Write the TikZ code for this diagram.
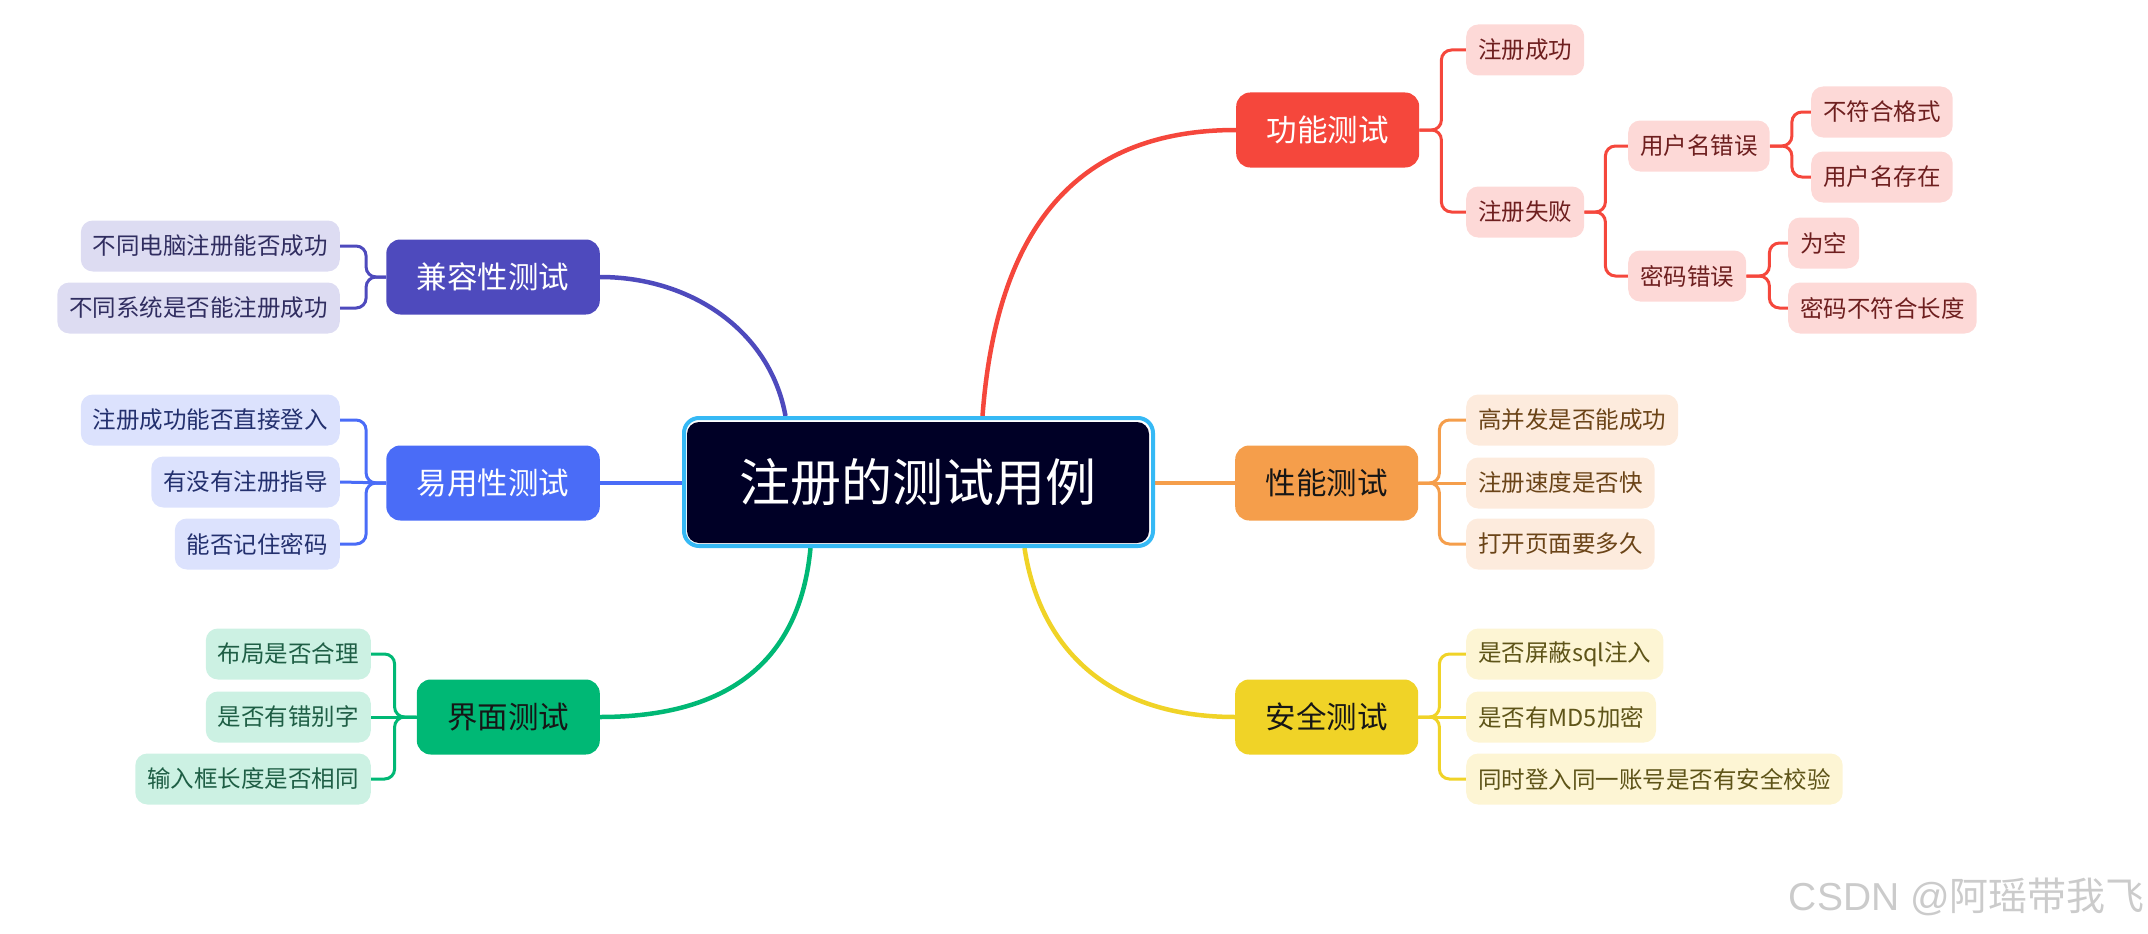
\documentclass[tikz,border=0pt]{standalone}
\usepackage{fontspec}
\setmainfont{Noto Sans CJK SC}
\newfontfamily\latinsans{Liberation Sans}
\usetikzlibrary{calc}
\pgfdeclarelayer{bg}
\pgfsetlayers{bg,main}
\definecolor{cred}{HTML}{F5473C}
\definecolor{credleaf}{HTML}{FDD9D7}
\definecolor{credtext}{HTML}{6E1F1F}
\definecolor{corange}{HTML}{F59E4B}
\definecolor{corangeleaf}{HTML}{FDEBDD}
\definecolor{corangetext}{HTML}{6B4418}
\definecolor{cyellow}{HTML}{F0D327}
\definecolor{cyellowleaf}{HTML}{FDF5D4}
\definecolor{cyellowtext}{HTML}{5E5418}
\definecolor{cpurple}{HTML}{4E4ABD}
\definecolor{cpurpleleaf}{HTML}{DDDCF2}
\definecolor{cpurpletext}{HTML}{302D60}
\definecolor{cblue}{HTML}{4A6CF7}
\definecolor{cblueleaf}{HTML}{DCE2FD}
\definecolor{cbluetext}{HTML}{23306E}
\definecolor{cgreen}{HTML}{00B875}
\definecolor{cgreenleaf}{HTML}{CCF1E3}
\definecolor{cgreentext}{HTML}{1E5E45}
\definecolor{crootfill}{HTML}{000026}
\definecolor{crootborder}{HTML}{36B9F5}
\definecolor{cdarktext}{HTML}{161616}
\definecolor{cwater}{HTML}{CBCBCB}
\tikzset{
  leafbox/.style={rounded corners=12pt, minimum height=51pt, inner xsep=12pt, inner ysep=0pt,
    font=\fontsize{23.5}{26}\selectfont},
  branchbox/.style={rounded corners=14pt, minimum height=75pt, inner xsep=30.5pt, inner ysep=0pt,
    font=\fontsize{30.5}{34}\selectfont},
  mainline/.style={line width=4.5pt},
  subline/.style={line width=3pt, rounded corners=10pt},
}
\begin{document}
\begin{tikzpicture}[x=1pt,y=-1pt]
\useasboundingbox (0,0) rectangle (2148,934);
% root
\node[draw=crootborder, line width=4pt, fill=white, rounded corners=15pt,
  minimum width=469pt, minimum height=128pt, inner sep=0pt] (rootframe) at (918.5,482) {};
\node[fill=crootfill, text=white, rounded corners=12pt, minimum width=462pt, minimum height=121pt,
  inner sep=0pt, font=\fontsize{51}{56}\selectfont] (root) at (918,482.5) {注册的测试用例};
% branches
\node[branchbox, fill=cred, text=white, anchor=west] (func) at (1236,130) {功能测试};
\node[branchbox, fill=corange, text=cdarktext, anchor=west] (perf) at (1235,483) {性能测试};
\node[branchbox, fill=cyellow, text=cdarktext, anchor=west] (sec) at (1235,717) {安全测试};
\node[branchbox, fill=cpurple, text=white, anchor=east] (comp) at (600,277) {兼容性测试};
\node[branchbox, fill=cblue, text=white, anchor=east] (usab) at (600,483) {易用性测试};
\node[branchbox, fill=cgreen, text=cdarktext, anchor=east] (ui) at (600,717) {界面测试};
% functional leaves
\tikzset{rleaf/.style={leafbox, fill=credleaf, text=credtext, anchor=west}}
\node[rleaf] (f1) at (1466,50) {注册成功};
\node[rleaf] (f2) at (1466,212) {注册失败};
\node[rleaf] (f3) at (1628,146) {用户名错误};
\node[rleaf] (f4) at (1628,276) {密码错误};
\node[rleaf] (f5) at (1811,112) {不符合格式};
\node[rleaf] (f6) at (1811,177) {用户名存在};
\node[rleaf] (f7) at (1788,243) {为空};
\node[rleaf] (f8) at (1788,308) {密码不符合长度};
% performance leaves
\tikzset{oleaf/.style={leafbox, fill=corangeleaf, text=corangetext, anchor=west}}
\node[oleaf] (p1) at (1466,420) {高并发是否能成功};
\node[oleaf] (p2) at (1466,483) {注册速度是否快};
\node[oleaf] (p3) at (1466,544) {打开页面要多久};
% security leaves
\tikzset{yleaf/.style={leafbox, fill=cyellowleaf, text=cyellowtext, anchor=west}}
\node[yleaf] (s1) at (1466,654) {是否屏蔽sql注入};
\node[yleaf] (s2) at (1466,717) {是否有MD5加密};
\node[yleaf] (s3) at (1466,779) {同时登入同一账号是否有安全校验};
% compatibility leaves
\tikzset{pleaf/.style={leafbox, fill=cpurpleleaf, text=cpurpletext, anchor=east}}
\node[pleaf] (c1) at (340,246) {不同电脑注册能否成功};
\node[pleaf] (c2) at (340,308) {不同系统是否能注册成功};
% usability leaves
\tikzset{bleaf/.style={leafbox, fill=cblueleaf, text=cbluetext, anchor=east}}
\node[bleaf] (u1) at (340,420) {注册成功能否直接登入};
\node[bleaf] (u2) at (340,482) {有没有注册指导};
\node[bleaf] (u3) at (340,544) {能否记住密码};
% ui leaves
\tikzset{gleaf/.style={leafbox, fill=cgreenleaf, text=cgreentext, anchor=east}}
\node[gleaf] (g1) at (371,654) {布局是否合理};
\node[gleaf] (g2) at (371,717) {是否有错别字};
\node[gleaf] (g3) at (371,779) {输入框长度是否相同};
% watermark
\node[anchor=east, text=cwater, inner sep=0pt, font=\fontsize{39}{42}\selectfont] (wm) at (2145,897)
  {{\latinsans CSDN @}阿瑶带我飞};
% connectors
\begin{pgfonlayer}{bg}
\draw[mainline, cred] ($(rootframe.north)+(64,0)$) .. controls (995,250) and (1060,130) .. (func.west);
\draw[mainline, cyellow] ($(rootframe.south)+(106,0)$) .. controls (1040,650) and (1110,717) .. (sec.west);
\draw[mainline, cpurple] (comp.east) .. controls (690,277) and (770,330) .. ($(rootframe.north)+(-133,0)$);
\draw[mainline, cgreen] ($(rootframe.south)+(-108,0)$) .. controls (800,660) and (730,717) .. (ui.east);
\draw[mainline, cblue] (usab.east) -- (rootframe.west |- usab.east);
\draw[mainline, corange] (rootframe.east |- perf.west) -- (perf.west);
% functional
\draw[subline, cred] (func.east) -- ++(22,0) |- (f1.west);
\draw[subline, cred] (func.east) -- ++(22,0) |- (f2.west);
\draw[subline, cred] (f2.east) -- ++(21,0) |- (f3.west);
\draw[subline, cred] (f2.east) -- ++(21,0) |- (f4.west);
\draw[subline, cred] (f3.east) -- ++(22,0) |- (f5.west);
\draw[subline, cred] (f3.east) -- ++(22,0) |- (f6.west);
\draw[subline, cred] (f4.east) -- ++(23,0) |- (f7.west);
\draw[subline, cred] (f4.east) -- ++(23,0) |- (f8.west);
% performance
\draw[subline, corange] (perf.east) -- ++(21,0) |- (p1.west);
\draw[subline, corange] (perf.east) -- (p2.west);
\draw[subline, corange] (perf.east) -- ++(21,0) |- (p3.west);
% security
\draw[subline, cyellow] (sec.east) -- ++(21,0) |- (s1.west);
\draw[subline, cyellow] (sec.east) -- (s2.west);
\draw[subline, cyellow] (sec.east) -- ++(21,0) |- (s3.west);
% compatibility
\draw[subline, cpurple] (comp.west) -- ++(-20,0) |- (c1.east);
\draw[subline, cpurple] (comp.west) -- ++(-20,0) |- (c2.east);
% usability
\draw[subline, cblue] (usab.west) -- ++(-20,0) |- (u1.east);
\draw[subline, cblue] (usab.west) -- (u2.east);
\draw[subline, cblue] (usab.west) -- ++(-20,0) |- (u3.east);
% ui
\draw[subline, cgreen] (ui.west) -- ++(-22,0) |- (g1.east);
\draw[subline, cgreen] (ui.west) -- (g2.east);
\draw[subline, cgreen] (ui.west) -- ++(-22,0) |- (g3.east);
\end{pgfonlayer}
\end{tikzpicture}
\end{document}
